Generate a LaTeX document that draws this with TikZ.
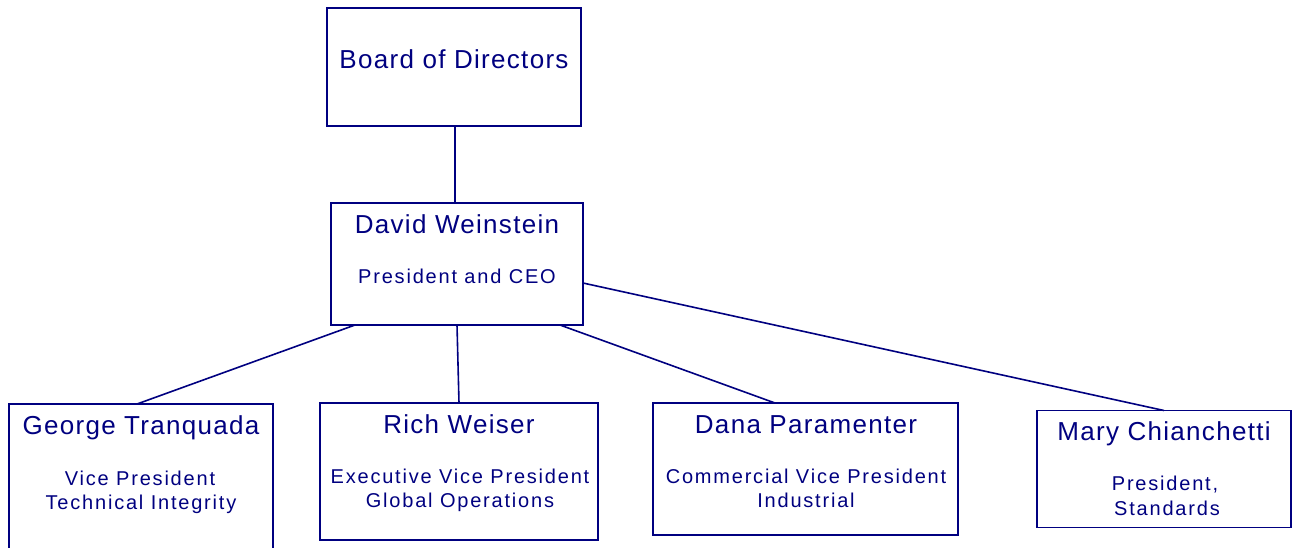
\documentclass[tikz,border=0pt]{standalone}
\usepackage{fontspec}
\setmainfont{Liberation Sans}
\newfontfamily\namefont[LetterSpace=5]{Liberation Sans}
\newfontfamily\titlefont[LetterSpace=9]{Liberation Sans}
\definecolor{navy}{RGB}{0,0,128}
\begin{document}
\begin{tikzpicture}[x=1pt,y=-1pt,
  box/.style={draw=navy, line width=1.6pt, fill=none, inner sep=0pt, outer sep=0pt},
  nametext/.style={text=navy, inner sep=0pt, anchor=base, font=\namefont\fontsize{26}{30}\selectfont},
  titletext/.style={text=navy, inner sep=0pt, anchor=base, font=\titlefont\fontsize{20}{24}\selectfont},
  link/.style={draw=navy, line width=1.6pt}]
\useasboundingbox (0,0) rectangle (1297,547);
\fill[white] (0,0) rectangle (1297,547);
\begin{scope}
\clip (0,0) rectangle (1297,547);
% boxes
\node[box, minimum width=254pt, minimum height=118pt] (board) at (454,67) {};
\node[box, minimum width=252pt, minimum height=122pt] (david) at (457,264) {};
\node[box, minimum width=264pt, minimum height=156pt] (george) at (141,482) {};
\node[box, minimum width=278pt, minimum height=137pt] (rich) at (459,471.5) {};
\node[box, minimum width=305pt, minimum height=132pt] (dana) at (805.5,469) {};
\node[box, minimum width=254pt, minimum height=117pt] (mary) at (1164,469) {};
% texts
\node[nametext] (boardT) at (454,68.3) {Board of Directors};
\node[nametext] (davidN) at (457,233.3) {David Weinstein};
\node[titletext] (davidT) at (457,283.3) {President and CEO};
\node[nametext] (georgeN) at (141,434.3) {George Tranquada};
\node[titletext] (georgeT1) at (140,485) {Vice President};
\node[titletext] (georgeT2) at (141,509) {Technical Integrity};
\node[nametext] (richN) at (459,433.5) {Rich Weiser};
\node[titletext] (richT1) at (460,483) {Executive Vice President};
\node[titletext] (richT2) at (460,507) {Global Operations};
\node[nametext] (danaN) at (806,433.5) {Dana Paramenter};
\node[titletext] (danaT1) at (806,483) {Commercial Vice President};
\node[titletext] (danaT2) at (806,507) {Industrial};
\node[nametext] (maryN) at (1164,440.5) {Mary Chianchetti};
\node[titletext] (maryT1) at (1165,490.5) {President,};
\node[titletext] (maryT2) at (1167,515) {Standards};
% connectors
\draw[link] ([xshift=1pt]board.south) -- ([xshift=1pt]david.north -| board.south);
\draw[link] ([xshift=24pt]david.south west) -- ([xshift=128pt]george.north west);
\draw[link] (david.south) -- (rich.north);
\draw[link] ([xshift=-23pt]david.south east) -- ([xshift=122pt]dana.north west);
\draw[link] ([yshift=-19pt]david.east) -- (mary.north);
\end{scope}
\end{tikzpicture}
\end{document}
